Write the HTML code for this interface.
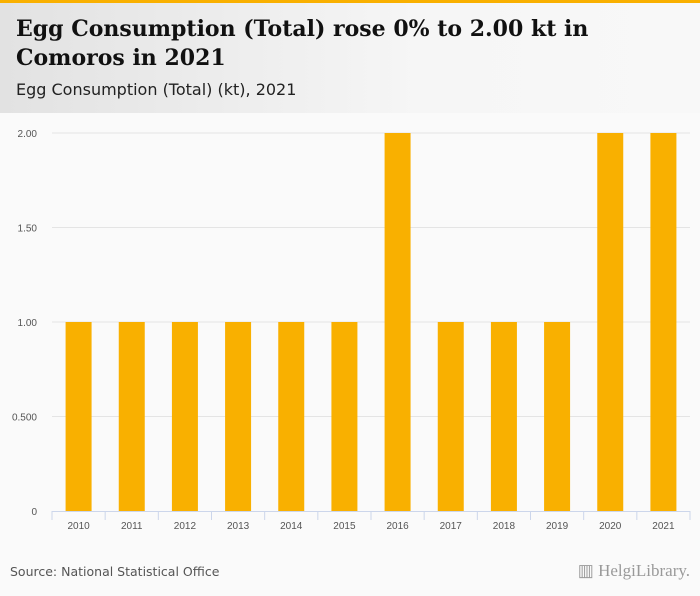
<!DOCTYPE html>
<html><head><meta charset="utf-8"><style>
body{margin:0;width:700px;height:596px;background:#fafafa;font-family:"Liberation Sans",sans-serif;overflow:hidden;position:relative}
#top{position:absolute;left:0;top:0;width:700px;height:3px;background:#f9b000}
#hdr{position:absolute;left:0;top:3px;width:700px;height:110px;background:linear-gradient(90deg,#e2e2e2,#f6f6f6 60%,#f8f8f8)}
h1{position:absolute;left:16px;top:15px;margin:0;font-family:"DejaVu Serif",serif;font-weight:bold;font-size:22px;line-height:29px;color:#111;white-space:nowrap}
#sub{position:absolute;left:16px;top:80px;font-family:"DejaVu Sans",sans-serif;font-size:16px;color:#222}
#src{position:absolute;left:10px;top:564px;font-family:"DejaVu Sans",sans-serif;font-size:12.5px;color:#555}
#logo{position:absolute;right:10px;top:561px;font-size:17px;color:#999;font-family:"Liberation Serif",serif}
svg{position:absolute;left:0;top:0}
</style></head><body>
<div id="top"></div>
<div id="hdr"></div>
<h1>Egg Consumption (Total) rose 0% to 2.00 kt in<br>Comoros in 2021</h1>
<div id="sub">Egg Consumption (Total) (kt), 2021</div>
<svg id="chart" width="700" height="596"></svg>
<div id="src">Source: National Statistical Office</div>
<div id="logo">▥ HelgiLibrary.</div>
<script>
const categories=["2010","2011","2012","2013","2014","2015","2016","2017","2018","2019","2020","2021"];
const values=[1,1,1,1,1,1,2,1,1,1,2,2];
const tickValues=[0,0.5,1,1.5,2];
const tickLabels=["0","0.500","1.00","1.50","2.00"];
const svg=document.getElementById('chart');const NS='http://www.w3.org/2000/svg';
const x0=52,x1=690,y0=511,yTop=133,maxV=2;
const bw=(x1-x0)/categories.length;
const y=v=>y0-(v/maxV)*(y0-yTop);
function mk(t,a){const e=document.createElementNS(NS,t);for(const k in a)e.setAttribute(k,a[k]);svg.appendChild(e);return e;}
tickValues.forEach((v,i)=>{
 if(v>0){const g=mk('line',{x1:x0,x2:x1,y1:y(v),y2:y(v),stroke:'#e4e4e4','stroke-width':1});
 
 }
 const t=mk('text',{x:37,y:y(v)+4,'text-anchor':'end','font-size':'10','fill':'#555','font-family':'Liberation Sans, sans-serif'});
 t.textContent=tickLabels[i];
 
 
});
categories.forEach((c,i)=>{
 const cx=x0+bw*(i+0.5);
 const r=mk('rect',{x:cx-13,y:y(values[i]),width:26,height:y0-y(values[i]),fill:'#f9b000'});
 
 
 const t=mk('text',{x:cx,y:y0+18,'text-anchor':'middle','font-size':'10','fill':'#555','font-family':'Liberation Sans, sans-serif'});
 t.textContent=c;
 
 
});
for(let i=0;i<=categories.length;i++){const tx=x0+bw*i;
 const l=mk('line',{x1:tx,x2:tx,y1:y0,y2:y0+9,stroke:'#ccd6eb'});
 
 }
const ax=mk('line',{x1:x0,x2:x1,y1:y0+0.5,y2:y0+0.5,stroke:'#ccd6eb'});


</script>
</body></html>
